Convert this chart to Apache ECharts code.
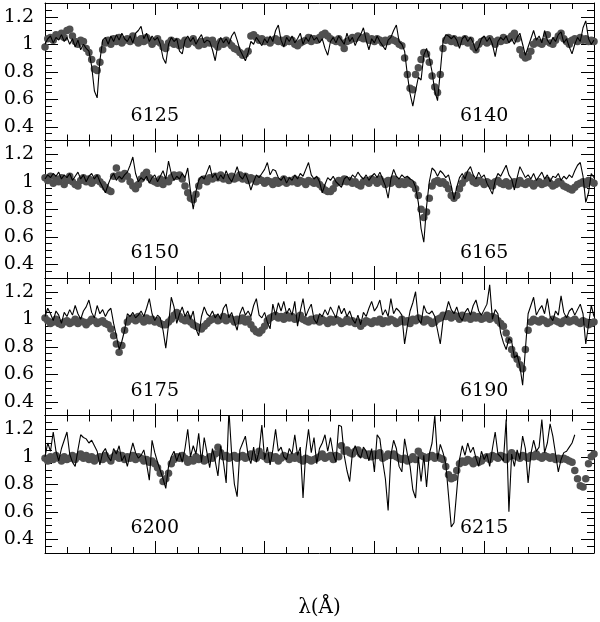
<!DOCTYPE html>
<html>
<head>
<meta charset="utf-8">
<script src="https://cdn.jsdelivr.net/npm/echarts@6/dist/echarts.min.js"></script>
<style>
html,body{margin:0;padding:0;background:#fff;}
#chart{width:600px;height:622px;}
</style>
</head>
<body>
<div id="chart"></div>
<script>
// wavelength sampling (Angstrom)
const STEP = 0.125;
const panelStarts = [6120, 6145, 6170, 6195];
const panelSpan = 25;
const panelLabels = [[6125, 6140], [6150, 6165], [6175, 6190], [6200, 6215]];
const labelLevel = 0.48;
const yMajorTicks = [0.4, 0.6, 0.8, 1.0, 1.2];
const yMin = 0.3, yMax = 1.3;
const xTitle = 'λ(Å)';

// synthetic spectrum (line) and observed spectrum (dots), per panel
const model1 = [
1.00,1.04,1.06,1.01,1.05,1.03,1.07,1.02,1.05,1.00,
1.04,0.98,1.03,0.96,1.00,0.97,0.95,0.84,0.66,0.61,
0.88,1.03,1.05,1.00,1.06,1.02,1.07,1.03,1.08,1.04,
1.02,1.06,1.01,1.08,1.10,1.13,1.04,1.08,1.02,1.06,
1.03,1.05,1.00,0.90,0.86,1.00,1.05,1.02,1.04,0.95,
0.93,1.03,1.06,1.02,1.05,1.00,1.04,1.07,1.01,1.03,
1.02,0.96,0.88,1.00,1.05,1.01,1.04,1.00,1.06,1.09,
1.03,0.96,0.92,0.88,0.94,1.02,1.00,1.05,1.02,0.99,
1.04,1.01,1.06,1.02,1.10,1.14,1.03,0.98,1.05,1.02,
1.06,1.01,1.04,1.08,1.00,1.05,1.02,1.07,1.03,1.05,
1.01,1.04,0.97,0.92,1.02,1.05,1.01,1.06,1.03,1.00,
1.08,1.02,1.05,0.99,1.04,1.07,1.12,1.03,0.96,1.04,
1.01,1.06,1.02,0.99,0.96,1.03,1.05,1.10,1.14,1.02,
1.00,0.95,0.78,0.64,0.55,0.66,0.76,0.74,0.92,0.97,
0.90,0.80,0.66,0.59,0.80,1.02,1.07,1.06,1.04,1.06,
1.03,0.97,1.04,1.06,1.02,1.05,1.01,0.95,0.98,1.04,
1.06,1.02,1.05,1.00,0.91,1.02,1.05,1.03,1.06,1.01,
1.04,1.00,1.05,1.08,1.00,0.92,0.98,1.04,1.10,1.03,
1.06,1.01,1.10,1.03,1.00,1.05,1.02,1.07,1.09,1.01,
1.04,0.98,0.93,1.00,1.05,1.02,1.12,1.17,1.04,1.00,
1.03];
const obs1 = [
0.98,1.04,1.05,1.03,1.07,1.06,1.08,1.05,1.10,1.11,
1.06,1.02,1.00,1.03,1.02,0.97,0.94,0.89,0.82,0.81,
0.87,0.96,1.01,1.03,1.00,1.04,1.02,1.05,1.01,1.03,
1.04,1.02,1.06,1.03,1.01,1.04,1.02,1.05,1.03,1.00,
1.02,1.04,1.01,0.98,0.97,1.01,1.03,1.00,1.02,0.99,
1.01,1.03,1.00,1.02,1.04,1.01,0.99,1.02,1.00,1.03,
1.01,1.03,1.00,0.98,1.02,1.00,1.03,1.01,0.99,0.97,
0.96,0.94,0.92,0.93,0.95,1.06,1.07,1.05,1.03,1.04,
1.02,1.03,1.01,1.03,1.04,1.02,1.03,1.01,1.04,1.02,
1.03,1.00,0.99,1.01,1.02,1.03,1.05,1.02,1.04,1.03,
1.05,1.07,1.08,1.06,1.04,1.03,1.02,1.04,1.01,0.97,
1.02,1.03,1.05,1.04,1.06,1.05,1.04,1.06,1.03,1.04,
1.02,1.04,1.03,1.01,1.03,1.02,1.04,1.03,1.02,1.00,
0.99,0.90,0.78,0.68,0.67,0.78,0.83,0.89,0.94,0.93,
0.87,0.77,0.69,0.65,0.78,0.97,1.03,1.05,1.02,1.04,
1.01,1.03,1.02,1.04,1.01,1.03,0.98,0.96,1.00,1.02,
1.03,1.01,1.04,1.02,1.00,1.03,1.02,1.05,1.03,1.04,
1.06,1.08,1.04,0.96,0.92,0.90,0.91,0.95,1.00,1.02,
1.01,1.00,1.02,1.07,1.01,1.00,1.03,1.06,1.08,1.04,
1.02,1.00,1.03,1.04,1.02,1.05,1.03,1.04,1.02,1.03,
1.02];
const model2 = [
1.02,1.05,1.03,1.06,1.04,1.07,1.02,1.05,1.03,1.06,
1.01,1.04,1.07,1.02,1.05,1.00,1.04,1.06,1.02,1.05,
1.00,0.96,0.92,0.98,1.03,1.06,1.01,1.04,1.02,1.05,
1.07,1.12,1.18,1.06,1.00,1.03,1.01,1.04,0.99,1.03,
1.05,1.00,1.04,1.08,1.02,1.15,1.06,1.01,1.04,1.02,
1.06,1.03,1.10,0.93,0.80,0.93,1.01,1.04,1.02,1.07,
1.12,1.03,1.06,1.01,1.05,1.02,1.08,1.03,1.00,1.05,
1.11,1.04,1.02,1.06,1.01,0.94,1.00,1.05,1.03,1.06,
1.09,1.14,1.05,1.09,1.08,1.03,1.01,1.04,0.99,1.03,
1.01,1.05,1.02,1.06,1.04,1.09,1.14,1.05,1.02,1.04,
1.00,0.92,0.98,1.03,1.01,1.04,1.00,0.98,0.96,1.02,
1.04,1.01,1.05,1.03,1.07,1.04,1.02,1.05,1.01,1.04,
1.06,1.03,1.07,1.02,0.97,0.88,1.02,1.09,1.04,1.02,
1.05,1.03,1.04,1.02,1.01,0.96,0.85,0.66,0.56,0.82,
1.00,1.10,1.08,1.04,1.08,1.06,1.03,1.05,0.97,0.87,
0.96,1.03,1.06,1.02,1.08,1.11,1.05,1.02,1.07,1.03,
1.05,0.99,0.95,0.91,1.01,1.06,1.04,1.08,1.12,1.05,
1.02,0.94,1.03,1.11,1.07,1.03,1.05,1.02,1.06,1.01,
1.04,1.07,1.02,1.05,1.00,1.04,1.03,1.06,1.01,1.04,
1.02,1.05,1.03,1.08,1.12,1.14,1.04,0.85,0.92,1.06,
1.03];
const obs2 = [
1.03,1.01,1.04,0.99,1.02,1.00,1.03,0.98,1.01,1.04,
1.00,0.98,0.97,1.01,1.03,1.00,1.02,0.99,1.01,1.03,
1.00,0.98,0.96,0.94,0.93,1.04,1.10,1.05,1.02,1.06,
1.04,1.00,0.97,0.95,0.98,1.02,1.05,1.07,1.03,1.01,
1.00,0.99,1.02,0.98,1.01,1.00,1.03,1.05,1.04,1.05,
1.02,0.97,0.92,0.88,0.87,0.91,0.97,1.01,1.02,1.00,
1.03,1.02,1.04,1.03,1.05,1.02,1.03,1.01,1.04,1.02,
1.03,1.05,1.02,1.04,1.01,1.03,1.02,1.00,1.02,1.01,
0.99,1.01,1.00,0.98,1.01,0.99,1.00,1.02,0.99,1.01,
1.00,1.02,0.99,1.01,1.00,0.98,1.01,1.00,0.99,1.01,
0.98,0.96,0.94,0.93,0.93,0.95,0.99,1.01,1.00,1.02,
1.00,1.01,0.99,1.00,0.98,0.97,1.00,1.01,0.99,1.02,
1.01,0.99,1.02,1.00,0.98,1.01,0.99,1.02,1.00,0.98,
1.00,0.98,1.01,0.99,0.98,0.95,0.90,0.80,0.74,0.78,
0.88,0.97,1.00,1.01,0.99,1.00,0.98,0.95,0.90,0.88,
0.90,0.95,0.99,1.02,1.05,1.03,1.00,0.99,1.01,1.00,
0.98,1.00,0.99,0.97,1.00,1.01,0.99,0.98,1.00,0.97,
0.99,1.00,0.98,1.01,0.99,0.98,1.00,0.99,0.97,0.99,
1.00,0.98,0.99,1.01,0.99,0.97,0.98,1.00,0.99,0.97,
0.96,0.95,0.94,0.96,0.98,0.99,1.00,0.98,1.01,1.00,
0.99];
const model3 = [
1.02,1.08,1.04,0.99,1.06,1.03,0.97,1.05,1.02,1.07,
1.03,1.10,1.04,1.00,1.06,1.09,1.14,1.05,1.01,1.10,
1.04,1.07,1.02,1.06,1.08,0.97,0.88,0.78,0.84,0.92,
1.04,1.02,1.05,1.01,1.03,1.06,1.02,1.08,1.15,1.04,
0.99,1.03,1.01,0.92,0.79,0.96,1.16,1.09,0.97,1.04,
1.09,1.02,1.06,1.00,1.06,0.93,0.88,1.02,1.09,1.04,
1.02,1.06,1.01,1.04,1.00,1.08,1.11,1.01,1.05,0.98,
0.92,1.04,1.09,1.03,1.06,1.02,1.10,1.15,1.03,1.01,
1.05,0.98,0.93,1.11,1.03,1.12,1.06,1.13,1.04,1.08,
1.03,1.13,0.95,1.06,1.15,1.02,1.07,1.11,1.00,0.97,
1.04,1.02,1.07,1.03,1.09,1.05,1.01,1.10,1.04,1.08,
1.02,1.06,1.00,0.97,1.03,0.96,1.05,1.02,1.08,1.13,
1.06,1.09,1.14,1.03,1.07,1.02,1.15,1.04,1.08,1.06,
1.03,0.82,0.95,1.06,1.12,1.20,1.00,0.97,1.10,1.05,
1.04,1.06,1.02,0.92,0.82,0.99,1.05,1.13,1.07,1.04,
1.09,1.02,0.99,1.05,1.08,1.03,1.10,1.14,1.06,1.03,
1.07,1.11,1.25,1.00,1.07,1.04,0.90,0.83,0.78,0.86,
0.84,0.72,0.74,0.66,0.52,0.78,1.04,1.10,1.16,1.03,
1.07,1.10,1.04,1.15,1.02,0.99,1.06,1.03,1.17,1.05,
1.01,1.06,1.08,1.03,1.07,1.11,1.04,0.82,0.96,1.10,
1.02];
const obs3 = [
1.01,0.99,0.97,0.98,1.00,0.97,0.96,0.98,0.99,0.97,
0.98,1.00,0.97,0.99,0.98,0.96,0.98,1.00,0.99,0.97,
0.98,0.99,0.97,0.96,0.93,0.88,0.82,0.76,0.81,0.92,
0.98,1.00,1.01,0.99,1.02,1.00,0.98,1.01,0.99,1.00,
0.98,0.99,0.97,0.96,0.96,0.98,1.00,1.03,1.05,1.02,
1.00,0.99,1.01,0.98,0.96,0.95,0.94,0.93,0.95,0.97,
0.99,1.00,1.01,0.99,1.00,1.02,0.99,1.01,1.00,0.98,
1.00,0.99,1.01,0.98,1.00,0.96,0.93,0.91,0.90,0.92,
0.95,0.99,1.01,1.02,1.03,1.01,1.02,1.00,1.03,1.01,
1.02,1.00,1.01,1.03,1.00,0.99,0.98,1.00,0.99,1.01,
0.98,1.00,0.99,0.97,1.00,0.98,1.00,0.99,0.97,0.98,
1.00,0.98,0.99,0.97,0.98,0.95,0.97,0.99,0.98,0.97,
0.99,0.98,1.00,0.97,0.99,0.98,1.00,0.99,0.97,0.98,
1.00,0.98,0.99,0.97,1.00,0.99,1.01,1.00,0.98,1.00,
0.99,0.97,0.98,1.00,1.01,1.03,1.02,1.04,1.01,1.03,
1.02,1.00,1.03,1.01,1.02,1.00,1.03,1.01,1.02,1.00,
1.01,1.03,1.00,1.02,1.01,0.99,0.97,0.95,0.90,0.85,
0.78,0.74,0.71,0.67,0.64,0.78,0.92,0.98,1.00,0.99,
0.98,1.00,0.99,0.97,0.98,1.00,0.99,0.98,0.97,0.99,
1.00,0.98,0.99,1.00,0.98,0.97,0.99,0.98,0.96,0.97,
0.98];
const model4 = [
1.00,1.10,1.04,1.18,1.04,0.97,1.06,1.12,1.18,1.02,
0.96,0.93,1.05,1.16,1.14,1.13,1.10,1.12,1.08,1.04,
0.94,1.03,1.06,1.00,0.97,1.06,1.02,1.08,0.97,1.01,
0.93,1.02,1.10,1.03,0.99,1.01,1.05,0.95,0.83,1.12,
1.03,0.96,0.90,0.84,0.77,0.93,1.00,1.04,0.97,1.03,
0.96,1.06,1.20,1.00,1.08,1.02,1.17,0.96,1.14,1.03,
0.92,1.06,0.97,0.86,1.08,0.96,0.81,1.34,1.02,0.80,
0.71,1.05,1.10,1.15,1.01,0.95,1.07,0.96,1.04,1.23,
0.98,1.07,0.94,1.05,1.20,1.04,1.07,1.00,0.98,1.06,
1.02,1.16,1.01,1.07,0.70,1.04,1.20,1.03,1.14,0.95,
1.06,1.10,1.16,1.04,1.14,1.02,0.96,1.23,1.22,1.01,
0.90,0.82,1.03,1.08,1.02,0.99,1.07,1.04,0.97,1.06,
0.89,1.16,1.13,0.97,0.84,0.61,1.01,1.12,1.06,0.93,
0.89,1.13,1.02,0.93,0.76,0.70,1.00,0.82,1.01,0.78,
1.02,1.10,1.30,0.98,1.09,1.03,0.95,0.72,0.49,0.52,
0.75,0.98,1.08,1.01,1.10,1.03,1.07,0.99,0.93,1.04,
0.98,1.02,0.93,1.06,1.18,1.02,1.00,0.97,1.27,0.60,
1.02,0.93,1.05,0.98,1.15,1.06,0.81,1.02,1.12,1.04,
1.07,1.27,1.03,1.10,1.24,1.15,1.02,0.89,0.98,1.03,
1.04,1.07,1.10,1.16];
const obs4 = [
0.99,0.97,1.00,0.98,1.01,0.99,0.97,1.00,0.98,0.99,
1.01,0.98,1.00,1.02,0.99,1.01,0.98,1.00,0.97,0.99,
1.00,0.98,1.01,0.99,0.97,1.00,1.02,0.99,1.01,0.98,
1.00,0.99,1.01,0.98,1.00,0.99,0.97,0.98,0.96,0.97,
0.95,0.92,0.88,0.82,0.84,0.88,0.95,0.98,1.00,0.99,
1.01,0.99,0.96,0.98,0.97,1.00,0.98,0.99,0.97,0.98,
1.00,0.99,1.02,1.07,1.03,1.00,1.01,0.99,1.00,1.01,
0.99,1.00,1.01,0.99,1.00,1.02,1.00,0.99,1.04,1.01,
1.00,0.98,1.01,0.99,1.00,0.97,0.99,1.01,1.00,0.98,
1.00,0.99,1.01,0.98,0.97,0.99,0.98,0.97,0.98,0.99,
1.00,1.02,0.99,1.00,1.01,0.98,1.01,1.00,1.08,1.04,
1.05,1.03,1.02,1.04,1.05,1.02,1.03,1.01,1.02,1.00,
1.02,1.01,1.03,0.99,1.00,1.02,1.01,1.02,1.00,0.99,
0.98,0.99,0.97,0.98,1.00,0.98,1.04,1.01,1.00,0.99,
1.00,1.01,0.99,1.00,0.99,0.98,0.93,0.87,0.84,0.85,
0.90,0.95,0.97,0.96,0.98,0.97,0.95,0.98,0.96,0.97,
0.99,1.00,0.98,1.01,1.00,0.99,1.01,1.00,0.98,1.00,
1.03,1.01,1.00,0.99,1.01,1.00,0.99,1.01,1.00,1.02,
1.00,0.99,1.01,1.00,0.99,1.00,0.98,0.99,0.98,0.99,
0.98,0.97,0.96,0.90,0.84,0.79,0.78,0.84,0.95,1.00,
1.02];

const models = [model1, model2, model3, model4];
const observed = [obs1, obs2, obs3, obs4];

const FONT = 'DejaVu Serif';
const GRID_TOP = 3, GRID_H = 137.5;
const chart = echarts.init(document.getElementById('chart'), null, {renderer: 'canvas'});

const grid = [], xAxis = [], yAxis = [], series = [];
const axisLineStyle = {color: '#000', width: 1};

for (let k = 0; k < 4; k++) {
  grid.push({left: 45, right: 6, top: GRID_TOP + k * GRID_H, height: GRID_H});
  const x0 = panelStarts[k], x1 = panelStarts[k] + panelSpan;
  ['bottom', 'top'].forEach(function (pos) {
    const ax = {
      type: 'value', gridIndex: k, position: pos, min: x0, max: x1, interval: 5,
      axisLine: {show: true, onZero: false, lineStyle: axisLineStyle},
      axisTick: {show: true, inside: true, length: 12, lineStyle: axisLineStyle},
      minorTick: {show: true, splitNumber: 5, length: 6, lineStyle: axisLineStyle},
      axisLabel: {show: false},
      splitLine: {show: false}, minorSplitLine: {show: false}
    };
    if (k === 3 && pos === 'bottom') {
      ax.name = xTitle;
      ax.nameLocation = 'middle';
      ax.nameGap = 45;
      ax.nameTextStyle = {fontFamily: FONT, fontSize: 20, color: '#000'};
    }
    xAxis.push(ax);
  });
  ['left', 'right'].forEach(function (pos) {
    // major ticks (0.2 steps)
    yAxis.push({
      type: 'value', gridIndex: k, position: pos, min: yMin, max: yMax, interval: 0.1,
      axisLine: {show: true, onZero: false, lineStyle: axisLineStyle},
      axisTick: {show: true, inside: true, length: 13, customValues: yMajorTicks, lineStyle: axisLineStyle},
      axisLabel: {show: pos === 'left', customValues: yMajorTicks, margin: 11,
        fontFamily: FONT, fontSize: 19, color: '#000',
        formatter: function (v) { return String(+v.toFixed(2)); }},
      splitLine: {show: false}
    });
    // minor ticks (0.05 steps)
    yAxis.push({
      type: 'value', gridIndex: k, position: pos, min: yMin, max: yMax, interval: 0.05,
      axisLine: {show: false},
      axisTick: {show: true, inside: true, length: 7, lineStyle: axisLineStyle},
      axisLabel: {show: false},
      splitLine: {show: false}
    });
  });

  series.push({
    type: 'scatter', xAxisIndex: 2 * k, yAxisIndex: 4 * k, z: 2,
    symbol: 'circle', symbolSize: 7.5,
    itemStyle: {color: '#505050', opacity: 1},
    data: observed[k].map(function (v, i) { return [x0 + i * STEP, v]; })
  });
  series.push({
    type: 'line', xAxisIndex: 2 * k, yAxisIndex: 4 * k, z: 3,
    showSymbol: false, symbol: 'none', clip: true,
    lineStyle: {color: '#000', width: 1.1},
    data: models[k].map(function (v, i) { return [x0 + i * STEP, v]; })
  });
  series.push({
    type: 'scatter', xAxisIndex: 2 * k, yAxisIndex: 4 * k, z: 4,
    symbolSize: 0, silent: true, itemStyle: {color: '#000', opacity: 1},
    label: {show: true, position: 'inside', fontFamily: FONT, fontSize: 19, color: '#000',
      opacity: 1, textBorderWidth: 0, textBorderColor: 'transparent',
      formatter: function (p) { return String(p.value[0]); }},
    data: panelLabels[k].map(function (w) { return [w, labelLevel]; })
  });
}

chart.setOption({
  animation: false,
  backgroundColor: '#fff',
  grid: grid, xAxis: xAxis, yAxis: yAxis, series: series
});
</script>
</body>
</html>
